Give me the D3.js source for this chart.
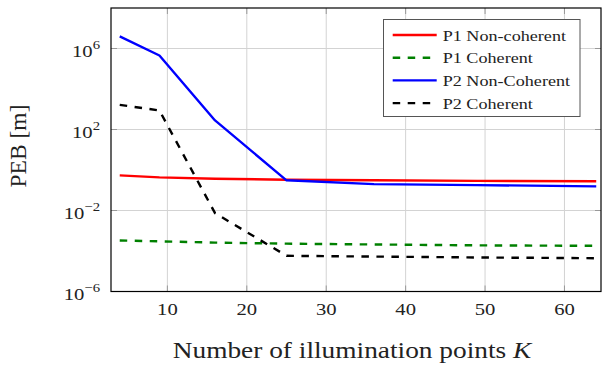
<!DOCTYPE html>
<html><head><meta charset="utf-8">
<script src="https://cdn.jsdelivr.net/npm/d3@7"></script>
<style>body{margin:0;background:#fff}svg{display:block}text{font-family:"Liberation Serif","Times New Roman",serif;fill:#222}</style>
</head><body>
<svg id="c" width="602" height="369"></svg>
<script>
const K = [4, 9, 16, 25, 36, 49, 64];
const p1NonCoherent = [0.54, 0.43, 0.37, 0.33, 0.31, 0.29, 0.28];
const p1Coherent = [3.3e-4, 3.0e-4, 2.6e-4, 2.3e-4, 2.1e-4, 1.9e-4, 1.8e-4];
const p2NonCoherent = [4e6, 4.5e5, 280, 0.31, 0.2, 0.18, 0.155];
const p2Coherent = [1650, 870, 0.0074, 5.8e-5, 5.3e-5, 4.8e-5, 4.4e-5];
const seriesNames = ["P1 Non-coherent", "P1 Coherent", "P2 Non-Coherent", "P2 Coherent"];
const xTicks = [10, 20, 30, 40, 50, 60];
const yTickExps = [-6, -2, 2, 6];
const xLabel = "Number of illumination points ";
const yLabel = "PEB [m]";

const series = [
  {name: seriesNames[0], values: p1NonCoherent, color: "#ff0000", dash: null},
  {name: seriesNames[1], values: p1Coherent, color: "#008000", dash: "7.5,7.5"},
  {name: seriesNames[2], values: p2NonCoherent, color: "#0000ff", dash: null},
  {name: seriesNames[3], values: p2Coherent, color: "#000000", dash: "7.5,7.5"}
];

const L = 111, R = 601, T = 8, B = 291.5;
const svg = d3.select("#c");
const x = d3.scaleLinear().domain([2.9, 64.6]).range([L, R]);
const y = d3.scaleLog().domain([1e-6, 1e8]).range([B, T]);

function stext(px, py, anchor, size, sx){
  return svg.append("text").attr("transform",`translate(${px},${py}) scale(${sx},1)`)
    .attr("text-anchor",anchor).attr("font-size",size);
}

svg.append("defs").append("clipPath").attr("id","clip")
  .append("rect").attr("x",L).attr("y",T).attr("width",R-L).attr("height",B-T);

const g = svg.append("g");
xTicks.forEach(t => g.append("line").attr("x1",x(t)).attr("x2",x(t)).attr("y1",T).attr("y2",B)
  .attr("stroke","#d3d3d3").attr("stroke-width",1));
yTickExps.forEach(e => g.append("line").attr("x1",L).attr("x2",R).attr("y1",y(Math.pow(10,e))).attr("y2",y(Math.pow(10,e)))
  .attr("stroke","#d3d3d3").attr("stroke-width",1));
xTicks.forEach(t => {
  g.append("line").attr("x1",x(t)).attr("x2",x(t)).attr("y1",B).attr("y2",B-6).attr("stroke","#999");
  g.append("line").attr("x1",x(t)).attr("x2",x(t)).attr("y1",T).attr("y2",T+6).attr("stroke","#999");
});
yTickExps.forEach(e => {
  const yy = y(Math.pow(10,e));
  g.append("line").attr("x1",L).attr("x2",L+6).attr("y1",yy).attr("y2",yy).attr("stroke","#999");
  g.append("line").attr("x1",R).attr("x2",R-6).attr("y1",yy).attr("y2",yy).attr("stroke","#999");
});

const line = d3.line().x((d,i)=>x(K[i])).y(d=>y(d));
const lg = svg.append("g").attr("clip-path","url(#clip)");
series.forEach(s => {
  lg.append("path").attr("d", line(s.values)).attr("fill","none")
    .attr("stroke", s.color).attr("stroke-width", 2.4)
    .attr("stroke-dasharray", s.dash).attr("stroke-linejoin","round");
});

svg.append("rect").attr("x",L).attr("y",T).attr("width",R-L).attr("height",B-T)
  .attr("fill","none").attr("stroke","#000").attr("stroke-width",1.2);

xTicks.forEach(t => stext(x(t), 315, "middle", 17.5, 1.18).text(t));
yTickExps.forEach(e => {
  const t = stext(100, y(Math.pow(10,e))+8.5, "end", 17.5, 1.18);
  t.append("tspan").text("10");
  t.append("tspan").attr("dy",-8).attr("font-size",12.5).text(e<0 ? "\u2212"+(-e) : e);
});

const xt = stext(352, 358, "middle", 24, 1.14);
xt.append("tspan").text(xLabel);
xt.append("tspan").attr("font-style","italic").text("K");
svg.append("text").attr("transform",`translate(26,146) rotate(-90)`).attr("text-anchor","middle")
  .attr("font-size",23.5).text(yLabel);

const lx = 383.5, ly = 19.5, lw = 196.5, lh = 97;
svg.append("rect").attr("x",lx).attr("y",ly).attr("width",lw).attr("height",lh)
  .attr("fill","#fff").attr("stroke","#555").attr("stroke-width",1);
series.forEach((s,i) => {
  const yy = 35 + i*22.7;
  svg.append("line").attr("x1",392.7).attr("x2",436.7).attr("y1",yy).attr("y2",yy)
    .attr("stroke",s.color).attr("stroke-width",2.4).attr("stroke-dasharray",s.dash);
  stext(442.7, yy+5.7, "start", 15.5, 1.17).text(s.name);
});
</script>
</body></html>
